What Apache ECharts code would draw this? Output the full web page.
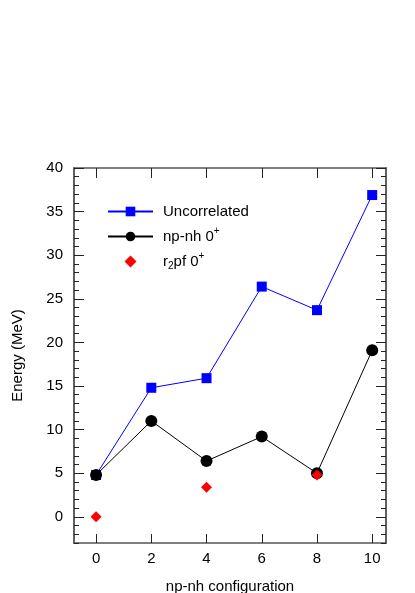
<!DOCTYPE html>
<html>
<head>
<meta charset="utf-8">
<script src="https://cdn.jsdelivr.net/npm/echarts@6/dist/echarts.min.js"></script>
<style>
  html, body { margin: 0; padding: 0; background: #fff; }
  #main { width: 415px; height: 593px; }
</style>
</head>
<body>
<div id="main"></div>
<script>
// np-nh configuration (x) and energies (MeV)
var configs = [0, 2, 4, 6, 8, 10];
var uncorrelated = [4.8, 14.8, 15.9, 26.4, 23.7, 36.9];
var npnh = [4.8, 11.0, 6.4, 9.2, 5.0, 19.1];
var r2pfX = [0, 4, 8];
var r2pf = [0.0, 3.4, 4.8];

var xTicks = [0, 2, 4, 6, 8, 10];
var yTicks = [0, 5, 10, 15, 20, 25, 30, 35, 40];
var yMinor = [];
for (var v = -3; v <= 40; v++) yMinor.push(v);

function pairs(xs, ys) {
  var res = [];
  for (var i = 0; i < xs.length; i++) res.push([xs[i], ys[i]]);
  return res;
}

var FONT = 'Liberation Sans';
var lineCol = '#555';
var tickCol = '#222';
var diamondPath = 'path://M0,-1L1,0L0,1L-1,0Z';

function yAxisDef(pos, ticks, len, labels) {
  return {
    type: 'value', min: -3, max: 40, position: pos,
    axisLine: { show: true, onZero: false, lineStyle: { color: lineCol, width: 1.5 } },
    axisTick: { show: true, inside: true, length: len, customValues: ticks,
      lineStyle: { color: tickCol, width: 1 } },
    axisLabel: labels ? { show: true, customValues: yTicks, fontFamily: FONT, fontSize: 15,
      color: '#000', margin: 11 } : { show: false },
    splitLine: { show: false }
  };
}

var chart = echarts.init(document.getElementById('main'));
chart.setOption({
  animation: false,
  backgroundColor: '#fff',
  grid: { left: 74, top: 168, right: 29, bottom: 50, outerBoundsMode: 'none', containLabel: false },
  legend: {
    orient: 'vertical', left: 107, top: 204, padding: 0,
    itemWidth: 45, itemHeight: 12, itemGap: 7.5,
    textStyle: { fontFamily: FONT, fontSize: 15, color: '#000', padding: [0, 0, 0, 5],
      rich: {
        a: { fontFamily: FONT, fontSize: 15, color: '#000', lineHeight: 20 },
        sup: { fontFamily: FONT, fontSize: 10, color: '#000', verticalAlign: 'top', lineHeight: 10 },
        sub: { fontFamily: FONT, fontSize: 10, color: '#000', verticalAlign: 'bottom', lineHeight: 10 }
      } },
    formatter: function (name) {
      if (name === 'np-nh 0+') return '{a|np-nh 0}{sup|+}';
      if (name === 'r2pf 0+') return '{a|r}{sub|2}{a|pf 0}{sup|+}';
      return '{a|' + name + '}';
    },
    data: ['Uncorrelated', 'np-nh 0+', { name: 'r2pf 0+', icon: diamondPath }]
  },
  xAxis: [{
    type: 'value', min: -0.8, max: 10.5, position: 'bottom',
    name: 'np-nh configuration', nameLocation: 'middle', nameGap: 36,
    nameTextStyle: { fontFamily: FONT, fontSize: 15, color: '#000' },
    axisLine: { show: true, onZero: false, lineStyle: { color: lineCol, width: 1.5 } },
    axisTick: { show: true, inside: true, length: 9, customValues: xTicks,
      lineStyle: { color: tickCol, width: 1 } },
    axisLabel: { show: true, customValues: xTicks, fontFamily: FONT, fontSize: 15,
      color: '#000', margin: 8 },
    splitLine: { show: false }
  }, {
    type: 'value', min: -0.8, max: 10.5, position: 'top',
    axisLine: { show: true, onZero: false, lineStyle: { color: lineCol, width: 1.5 } },
    axisTick: { show: true, inside: true, length: 10, customValues: xTicks,
      lineStyle: { color: tickCol, width: 1 } },
    axisLabel: { show: false },
    splitLine: { show: false }
  }],
  yAxis: [
    (function () {
      var a = yAxisDef('left', yTicks, 10, true);
      a.name = 'Energy (MeV)';
      a.nameLocation = 'middle';
      a.nameGap = 49;
      a.nameRotate = 90;
      a.nameTextStyle = { fontFamily: FONT, fontSize: 15, color: '#000' };
      return a;
    })(),
    yAxisDef('left', yMinor, 5, false),
    yAxisDef('right', yTicks, 10, false),
    yAxisDef('right', yMinor, 5, false)
  ],
  series: [{
    name: 'Uncorrelated', type: 'line', data: pairs(configs, uncorrelated),
    symbol: 'rect', symbolSize: 10,
    lineStyle: { color: '#0000ff', width: 1 },
    itemStyle: { color: '#0000ff' }, z: 3
  }, {
    name: 'np-nh 0+', type: 'line', data: pairs(configs, npnh),
    symbol: 'circle', symbolSize: 12,
    lineStyle: { color: '#000', width: 1 },
    itemStyle: { color: '#000' }, z: 4
  }, {
    name: 'r2pf 0+', type: 'scatter', data: pairs(r2pfX, r2pf),
    symbol: 'diamond', symbolSize: 11,
    itemStyle: { color: '#ff0000', opacity: 1 }, z: 5
  }]
});
</script>
</body>
</html>
